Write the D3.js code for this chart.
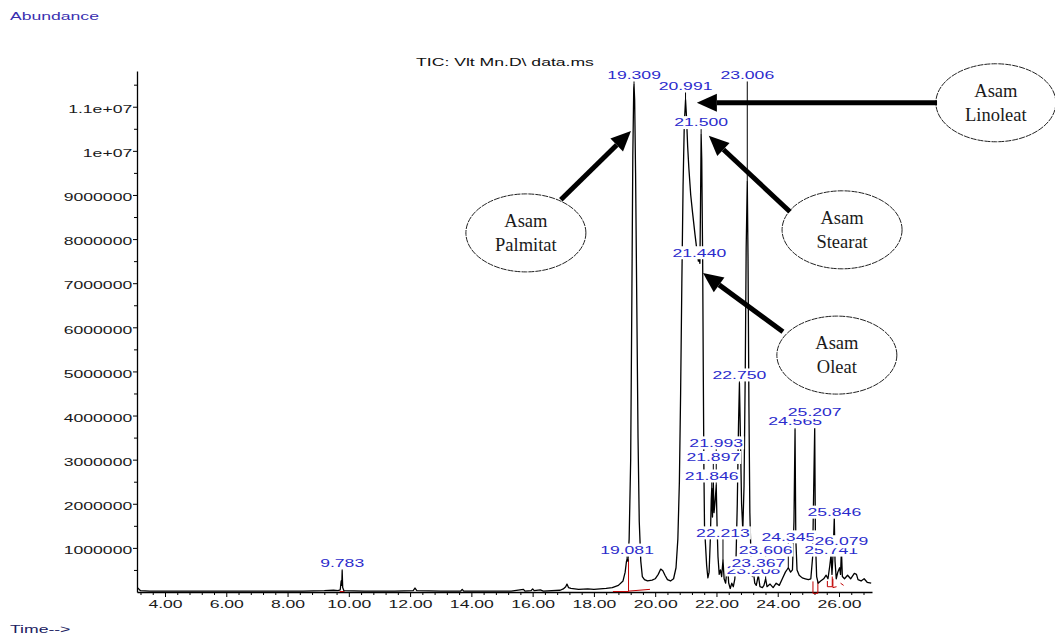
<!DOCTYPE html>
<html><head><meta charset="utf-8">
<script src="https://cdn.jsdelivr.net/npm/d3@7"></script>
<style>
html,body{margin:0;padding:0;background:#fff;}
svg{display:block;}
</style></head>
<body>
<svg id="c" width="1055" height="636"></svg>
<script>
// ---------- DATA ----------
// Retention time (min) of the traced TIC points
const times = [3.10,3.20,3.50,4.50,5.50,6.50,7.50,8.50,9.20,9.50,9.65,9.72,9.75,9.77,9.783,9.80,9.84,10.5,11.5,12.10,12.16,12.22,13.0,13.65,13.70,13.75,14.5,15.3,15.70,15.75,15.95,16.00,16.05,16.25,16.35,16.9,17.00,17.08,17.12,17.17,17.25,17.5,17.8,18.0,18.2,18.4,18.6,18.8,18.95,19.02,19.06,19.081,19.11,19.15,19.20,19.24,19.27,19.30,19.309,19.33,19.36,19.40,19.44,19.48,19.53,19.58,19.65,19.75,19.90,20.00,20.10,20.18,20.25,20.32,20.40,20.50,20.60,20.68,20.74,20.79,20.83,20.87,20.91,20.95,20.991,21.02,21.06,21.10,21.16,21.22,21.30,21.37,21.41,21.440,21.46,21.48,21.50,21.52,21.55,21.57,21.59,21.61,21.64,21.68,21.72,21.76,21.80,21.83,21.846,21.87,21.897,21.92,21.95,21.993,22.02,22.05,22.09,22.13,22.17,22.213,22.25,22.30,22.36,22.40,22.45,22.50,22.55,22.60,22.64,22.68,22.72,22.750,22.78,22.82,22.86,22.90,22.94,22.97,23.006,23.03,23.06,23.09,23.13,23.17,23.208,23.25,23.30,23.367,23.42,23.50,23.55,23.606,23.65,23.75,23.85,23.95,24.05,24.15,24.25,24.345,24.42,24.48,24.53,24.565,24.59,24.63,24.70,24.80,24.90,25.00,25.08,25.14,25.18,25.207,25.23,25.27,25.32,25.40,25.50,25.58,25.64,25.70,25.741,25.77,25.81,25.846,25.87,25.91,25.96,26.02,26.05,26.079,26.11,26.18,26.28,26.38,26.50,26.57,26.62,26.72,26.82,26.92,27.05];
// Abundance (millions of counts) at each time
const abundance = [0.10,0.03,0.02,0.02,0.02,0.02,0.02,0.02,0.03,0.04,0.03,0.05,0.25,0.15,0.48,0.10,0.03,0.02,0.02,0.03,0.09,0.03,0.02,0.02,0.06,0.02,0.02,0.02,0.06,0.02,0.03,0.07,0.03,0.05,0.02,0.04,0.07,0.12,0.18,0.10,0.08,0.06,0.07,0.06,0.07,0.08,0.10,0.15,0.25,0.45,0.68,0.74,0.70,1.2,3.0,6.8,9.9,11.42,11.5,11.15,9.5,6.5,3.5,1.6,0.7,0.35,0.28,0.25,0.27,0.30,0.40,0.52,0.48,0.38,0.28,0.25,0.30,0.55,1.2,2.5,4.5,7.0,9.2,10.6,11.16,10.8,10.1,9.6,9.0,8.6,8.1,7.7,7.5,7.55,7.45,8.8,10.36,9.8,7.5,5.0,2.8,1.5,1.1,0.6,0.32,0.45,1.2,2.1,2.35,1.7,2.5,1.8,2.0,2.42,1.5,0.8,0.4,0.5,0.35,0.72,0.3,0.2,0.62,0.2,0.08,0.2,0.12,0.3,0.8,2.0,3.8,4.74,3.6,2.0,1.4,2.4,5.0,7.8,9.3,7.6,4.2,1.8,0.7,0.35,0.45,0.2,0.15,0.38,0.12,0.1,0.15,0.3,0.12,0.18,0.1,0.2,0.15,0.3,0.45,0.55,0.45,0.5,1.6,3.67,1.2,0.5,0.38,0.32,0.3,0.28,0.3,0.8,2.6,3.72,1.2,0.35,0.2,0.25,0.3,0.38,0.3,0.6,0.85,0.4,0.9,1.68,0.7,0.3,0.45,0.55,0.4,0.95,0.35,0.3,0.38,0.3,0.42,0.40,0.28,0.25,0.3,0.22,0.2];

// Peak labels: retention time, apex height (millions), label level (millions)
const peakRT    = [9.783,19.081,19.309,20.991,21.440,21.500,21.846,21.897,21.993,22.213,22.750,23.006,23.208,23.367,23.606,24.345,24.565,25.207,25.741,25.846,26.079];
const peakText  = ["9.783","19.081","19.309","20.991","21.440","21.500","21.846","21.897","21.993","22.213","22.750","23.006","23.208","23.367","23.606","24.345","24.565","25.207","25.741","25.846","26.079"];
const peakApex  = [0.48,0.74,11.5,11.16,7.55,10.36,2.35,2.5,2.42,0.72,4.74,9.3,0.45,0.38,0.3,0.55,3.67,3.72,0.85,1.68,0.95];
const peakLabelLevel = [0.66,0.95,11.72,11.47,7.69,10.64,2.63,3.05,3.38,1.34,4.92,11.72,0.50,0.66,0.95,1.25,3.86,4.07,0.95,1.81,1.14];

// Red integration baseline segments [t1, a1, t2, a2]
const redSegT1 = [9.70,18.62,19.13,19.13,25.15,25.15,25.31,25.62,25.62,25.78,25.80,25.80,26.05];
const redSegA1 = [0.01,0.01,0.01,0.02,0.24,-0.03,-0.03,0.25,0.12,0.12,0.30,0.10,0.20];
const redSegT2 = [9.86,19.13,19.13,19.83,25.15,25.31,25.31,25.62,25.78,25.78,25.80,25.92,26.15];
const redSegA2 = [0.01,0.01,0.74,0.06,-0.03,-0.03,0.24,0.12,0.12,0.35,0.10,0.12,0.15];

// Axis ticks
const xTicks = [4,6,8,10,12,14,16,18,20,22,24,26];
const xTickLabels = ["4.00","6.00","8.00","10.00","12.00","14.00","16.00","18.00","20.00","22.00","24.00","26.00"];
const yTicks = [1,2,3,4,5,6,7,8,9,10,11];
const yTickLabels = ["1000000","2000000","3000000","4000000","5000000","6000000","7000000","8000000","9000000","1e+07","1.1e+07"];

// Annotations (compound names) in data coordinates
const noteLine1 = ["Asam","Asam","Asam","Asam"];
const noteLine2 = ["Palmitat","Linoleat","Stearat","Oleat"];
const noteCenterT = [15.78,31.12,26.10,25.93];
const noteCenterA = [8.14,11.09,8.21,5.37];
const arrowFromT = [16.92,29.20,24.40,24.17];
const arrowFromA = [8.89,11.09,8.62,5.90];
const arrowTipT  = [19.21,21.36,21.75,21.56];
const arrowTipA  = [10.45,11.09,10.34,7.23];

// ---------- DRAW ----------
const svg = d3.select("#c");
const SX = 1.6, FONT = "'Liberation Sans', Arial, sans-serif";
const x = d3.scaleLinear().domain([3.086, 27.077]).range([137, 872]);
const y = d3.scaleLinear().domain([0, 11.81]).range([592, 71]);

function stretchedText(sel, str, color, anchor) {
  return sel.append("text").text(str)
    .attr("transform", `scale(${SX},1)`)
    .attr("text-anchor", anchor || "start")
    .attr("dominant-baseline", "central")
    .attr("font-family", FONT).attr("font-size", 11)
    .attr("fill", color);
}

// Headers
stretchedText(svg.append("g").attr("transform","translate(10,16)"), "Abundance", "#3a30b0");
stretchedText(svg.append("g").attr("transform","translate(10,629)"), "Time-->", "#202060");
stretchedText(svg.append("g").attr("transform","translate(505,62)"), "TIC: Vlt Mn.D\\ data.ms", "#111", "middle");

// Axes
const xMinor = d3.range(3.2, 27.05, 0.4).filter(v => Math.abs(v/2 - Math.round(v/2)) > 0.01);
svg.append("g").attr("transform","translate(0,592)")
  .call(d3.axisBottom(x).tickValues(xMinor).tickSize(3).tickSizeOuter(0).tickFormat(""))
  .call(g => g.select(".domain").remove());
const xa = svg.append("g").attr("transform","translate(0,592)")
  .call(d3.axisBottom(x).tickValues(xTicks).tickSize(5).tickSizeOuter(0).tickFormat((d,i)=>xTickLabels[i]));
xa.selectAll("text").attr("transform",`scale(${SX},1)`).attr("y",12).attr("dy",null)
  .attr("dominant-baseline","central").attr("font-family",FONT).attr("font-size",11).attr("fill","#1a1a1a");

const yMinor = d3.range(0.5, 11.8, 1);
svg.append("g").attr("transform","translate(137,0)")
  .call(d3.axisLeft(y).tickValues(yMinor).tickSize(3).tickSizeOuter(0).tickFormat(""))
  .call(g => g.select(".domain").remove());
const ya = svg.append("g").attr("transform","translate(137,0)")
  .call(d3.axisLeft(y).tickValues(yTicks).tickSize(4).tickSizeOuter(0).tickFormat((d,i)=>yTickLabels[i]));
ya.selectAll("text").attr("transform",`scale(${SX},1)`).attr("x",-3).attr("y",2).attr("dy",null)
  .attr("dominant-baseline","central").attr("font-family",FONT).attr("font-size",11).attr("fill","#1a1a1a");
svg.selectAll(".domain").attr("stroke","#000").attr("stroke-width",1.3);
svg.selectAll(".tick line").attr("stroke","#000");

// Red integration baselines
svg.append("g").selectAll("line").data(redSegT1).join("line")
  .attr("x1",(d,i)=>x(redSegT1[i])).attr("y1",(d,i)=>y(redSegA1[i]))
  .attr("x2",(d,i)=>x(redSegT2[i])).attr("y2",(d,i)=>y(redSegA2[i]))
  .attr("stroke","#c00000").attr("stroke-width",1);

// TIC trace
const line = d3.line().x((d,i)=>x(times[i])).y((d,i)=>y(abundance[i]));
svg.append("path").datum(times).attr("d", line)
  .attr("fill","none").attr("stroke","#000").attr("stroke-width",1.3).attr("stroke-linejoin","round");

// Leader lines from labels to apex
svg.append("g").selectAll("line").data(peakRT).join("line")
  .attr("x1",d=>x(d)).attr("x2",d=>x(d))
  .attr("y1",(d,i)=>y(peakLabelLevel[i])+5).attr("y2",(d,i)=>y(peakApex[i]))
  .attr("stroke","#000").attr("stroke-width",1)
  .attr("display",(d,i)=> y(peakApex[i]) > y(peakLabelLevel[i])+5 ? null : "none");

// Peak labels with white backgrounds
const lg = svg.append("g");
peakRT.forEach((rt,i)=>{
  const g = lg.append("g").attr("transform",`translate(${x(rt)},${y(peakLabelLevel[i])})`);
  const r = g.append("rect").attr("fill","#fff");
  const t = stretchedText(g, peakText[i], "#2b2bcc", "middle");
  const w = t.node().getComputedTextLength()*SX + 2;
  r.attr("x",-w/2).attr("y",-6.5).attr("width",w).attr("height",13);
});

// Annotations
const ag = svg.append("g");
noteLine1.forEach((n,i)=>{
  const cx = x(noteCenterT[i]), cy = y(noteCenterA[i]);
  ag.append("ellipse").attr("cx",cx).attr("cy",cy).attr("rx",60).attr("ry",39)
    .attr("fill","#fff").attr("stroke","#222").attr("stroke-width",1).attr("stroke-dasharray","6,1");
  ag.append("text").attr("x",cx).attr("y",cy-12).attr("text-anchor","middle").attr("dominant-baseline","central")
    .attr("font-family","'Liberation Serif','Times New Roman',serif").attr("font-size",18.5).attr("fill","#1a1a1a").text(n);
  ag.append("text").attr("x",cx).attr("y",cy+12).attr("text-anchor","middle").attr("dominant-baseline","central")
    .attr("font-family","'Liberation Serif','Times New Roman',serif").attr("font-size",18.5).attr("fill","#1a1a1a").text(noteLine2[i]);
  const x1 = x(arrowFromT[i]), y1 = y(arrowFromA[i]), x2 = x(arrowTipT[i]), y2 = y(arrowTipA[i]);
  const ang = Math.atan2(y2-y1, x2-x1), L = 20, Wd = 9;
  const bx = x2 - L*Math.cos(ang), by = y2 - L*Math.sin(ang);
  ag.append("line").attr("x1",x1).attr("y1",y1).attr("x2",bx).attr("y2",by)
    .attr("stroke","#000").attr("stroke-width",5);
  const px = -Math.sin(ang)*Wd, py = Math.cos(ang)*Wd;
  ag.append("polygon").attr("points",`${x2},${y2} ${bx+px},${by+py} ${bx-px},${by-py}`).attr("fill","#000");
});
</script>
</body></html>
